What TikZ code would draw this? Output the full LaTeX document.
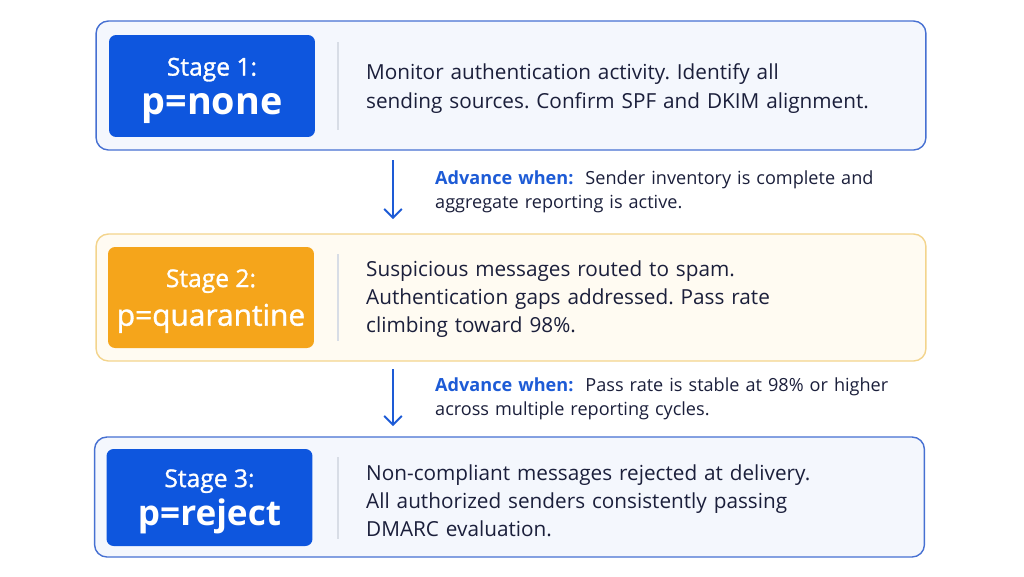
\documentclass[tikz,border=0pt]{standalone}
\usepackage{fontspec}
\setmainfont{Open Sans}
\newfontfamily\mediumfont{Open Sans}[FakeBold=1.2]
\usetikzlibrary{arrows.meta}
\definecolor{inkblue}{RGB}{14,86,222}
\definecolor{cardblue}{RGB}{244,247,253}
\definecolor{lineblue}{RGB}{70,112,210}
\definecolor{inkorange}{RGB}{245,165,27}
\definecolor{cardorange}{RGB}{255,251,242}
\definecolor{lineorange}{RGB}{243,212,140}
\definecolor{sepgray}{RGB}{216,221,230}
\definecolor{navy}{RGB}{27,31,59}
\definecolor{arrowblue}{RGB}{29,91,214}
\tikzset{
  card/.style={draw, rounded corners=7pt, line width=0.8pt, minimum width=16.6cm},
  badge/.style={rounded corners=4pt, minimum width=4.12cm, text=white, align=center,
    text depth=0pt, font=\fontsize{14}{22}\selectfont},
  desc/.style={anchor=west, text width=10.8cm, align=left, text=navy,
    font=\frenchspacing\fontsize{11.8}{16}\selectfont},
  note/.style={anchor=west, text width=9.5cm, align=left, text=navy,
    font=\frenchspacing\fontsize{10.3}{13.6}\selectfont},
  sep/.style={draw=sepgray, line width=0.6pt},
  advance/.style={-{Straight Barb[length=5pt,width=10pt]}, draw=arrowblue, line width=1.1pt}
}
\begin{document}
\begin{tikzpicture}[x=0.02cm, y=-0.02cm]
  \useasboundingbox[fill=white] (0,0) rectangle (1024,576);
  % stage 1
  \node[card, draw=lineblue, fill=cardblue, minimum height=2.58cm] (card1) at (511,85.5) {};
  \node[badge, fill=inkblue, minimum height=2.04cm] (badge1) at (212,86)
    {{\mediumfont Stage 1:}\\{\bfseries\fontsize{21.5}{24}\selectfont p=none}};
  \draw[sep] (338,42) -- (338,130);
  \node[desc] (desc1) at (360,88.5) {Monitor authentication activity. Identify all\\sending sources. Confirm SPF and DKIM alignment.};
  % stage 2
  \node[card, draw=lineorange, fill=cardorange, minimum height=2.54cm] (card2) at (511,297.5) {};
  \node[badge, fill=inkorange, minimum height=2.02cm] (badge2) at (211,297.5)
    {{\mediumfont Stage 2:}\\{\mediumfont\fontsize{17}{20}\selectfont p=quarantine}};
  \draw[sep] (338,254) -- (338,341);
  \node[desc] (desc2) at (360,299) {Suspicious messages routed to spam.\\Authentication gaps addressed. Pass rate\\climbing toward 98\%.};
  % stage 3
  \node[card, draw=lineblue, fill=cardblue, minimum height=2.40cm] (card3) at (509.5,497) {};
  \node[badge, fill=inkblue, minimum height=1.94cm] (badge3) at (209.5,497.5)
    {{\mediumfont Stage 3:}\\{\bfseries\fontsize{20}{24}\selectfont p=reject}};
  \draw[sep] (338,457) -- (338,539);
  \node[desc] (desc3) at (360,500.5) {Non-compliant messages rejected at delivery.\\All authorized senders consistently passing\\DMARC evaluation.};
  % transitions
  \coordinate (go1) at (393,160);
  \coordinate (to1) at (393,219);
  \draw[advance] (go1) -- (to1);
  \node[note] (note1) at (429,192) {{\bfseries\color{arrowblue}Advance when:}\ \ Sender inventory is complete and\\aggregate reporting is active.};
  \coordinate (go2) at (393,369);
  \coordinate (to2) at (393,426);
  \draw[advance] (go2) -- (to2);
  \node[note] (note2) at (429,398.5) {{\bfseries\color{arrowblue}Advance when:}\ \ Pass rate is stable at 98\% or higher\\across multiple reporting cycles.};
\end{tikzpicture}
\end{document}
